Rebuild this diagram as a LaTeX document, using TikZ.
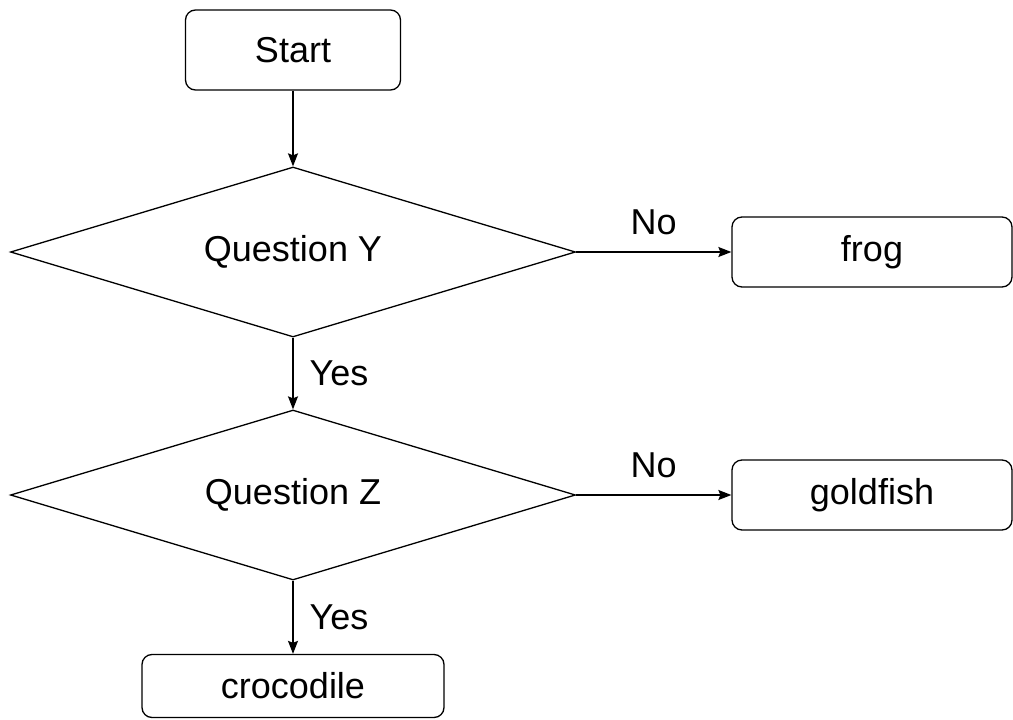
\documentclass[tikz,border=0pt]{standalone}
\usepackage{fontspec}
\setmainfont{Liberation Sans}
\usetikzlibrary{shapes.geometric, positioning, arrows.meta}

\begin{document}
\begin{tikzpicture}[x=1pt, y=-1pt, on grid, line width=1.3pt,
                        >={Stealth[length=13pt, width=10pt, inset=2pt]},
                        every node/.style = {font=\fontsize{36}{40}\selectfont},
                        box/.style = {draw, rounded corners=10pt, minimum
                        width=280pt, minimum height=70pt, inner sep=0pt},
                        decision/.style = {draw, diamond, aspect=3.3, minimum
                        width=565pt, minimum height=170pt, inner sep=0pt},
                        lbl/.style = {inner sep=0pt}]
        \useasboundingbox (0,0) rectangle (1013,720);
        \node[box, minimum width=215pt, minimum height=80pt] (start) at (293,50) {Start};
        \node[decision] (qy) [below=202pt of start] {Question Y};
        \node[box] (frog) [right=579pt of qy] {frog};

        \node[decision] (qz) [below=243pt of qy] {Question Z};
        \node[box] (goldfish) [right=579pt of qz] {goldfish};
        \node[box, minimum width=302pt, minimum height=63pt] (croc) [below=191pt of qz] {crocodile};

        \draw[->] (start) -- (qy);
        \draw[->] (qy) -- node[lbl, above=17pt] {No} (frog);
        \draw[->] (qy) -- node[lbl, right=16pt, anchor=west] {Yes} (qz);
        \draw[->] (qz) -- node[lbl, above=17pt] {No} (goldfish);
        \draw[->] (qz) -- node[lbl, right=16pt, anchor=west] {Yes} (croc);
    \end{tikzpicture}
\end{document}
